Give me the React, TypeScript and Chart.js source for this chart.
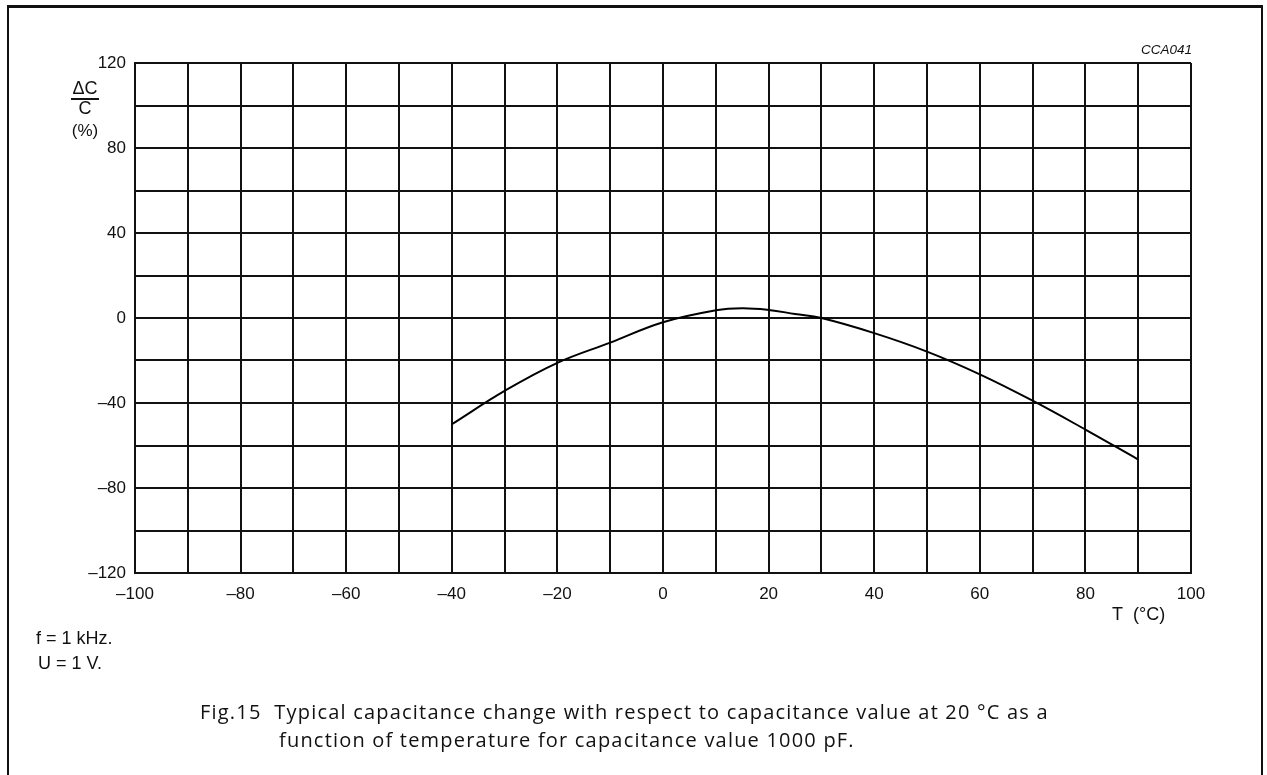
import React, { useEffect, useRef } from "react";
import { Chart, registerables } from "chart.js";

Chart.register(...registerables);

// Temperature (°C) and capacitance change (%)
const temperatures = [-40, -30, -20, -10, 0, 10, 15, 20, 25, 30, 40, 50, 60, 70, 80, 90];
const deltaC = [-50, -34.3, -21.1, -11.6, -2, 3.6, 4.6, 3.8, 1.9, 0, -7.1, -15.8, -26.5, -38.9, -52.5, -66.6];

const xTickLabels = [-100, -80, -60, -40, -20, 0, 20, 40, 60, 80, 100];
const yTickLabels = [-120, -80, -40, 0, 40, 80, 120];

const fmt = (v: number) => (v < 0 ? "\u2013" + Math.abs(v) : String(v));

const FONT = "'Liberation Sans', Arial, sans-serif";

export default function App() {
  const ref = useRef<HTMLCanvasElement | null>(null);

  useEffect(() => {
    if (!ref.current) return;
    const chart = new Chart(ref.current, {
      type: "line",
      data: {
        datasets: [
          {
            data: temperatures.map((t, i) => ({ x: t, y: deltaC[i] })),
            borderColor: "#000",
            borderWidth: 2,
            pointRadius: 0,
            tension: 0.4,
            fill: false,
          },
        ],
      },
      options: {
        responsive: false,
        animation: false,
        events: [],
        layout: { padding: { left: 0, top: 63, right: 76, bottom: 162 } },
        plugins: { legend: { display: false }, tooltip: { enabled: false } },
        scales: {
          x: {
            type: "linear",
            min: -100,
            max: 100,
            afterFit: (axis: any) => {
              axis.height = 40;
            },
            ticks: {
              stepSize: 10,
              autoSkip: false,
              maxRotation: 0,
              padding: 11,
              color: "#111",
              font: { family: FONT, size: 17 },
              callback: (v: any) => (xTickLabels.includes(Number(v)) ? fmt(Number(v)) : ""),
            },
            grid: { color: "#111", lineWidth: 2, drawTicks: false },
            border: { color: "#111", width: 2 },
          },
          y: {
            type: "linear",
            min: -120,
            max: 120,
            afterFit: (axis: any) => {
              axis.width = 135;
            },
            ticks: {
              stepSize: 20,
              autoSkip: false,
              padding: 9,
              color: "#111",
              font: { family: FONT, size: 17 },
              callback: (v: any) => (yTickLabels.includes(Number(v)) ? fmt(Number(v)) : ""),
            },
            grid: { color: "#111", lineWidth: 2, drawTicks: false },
            border: { color: "#111", width: 2 },
          },
        },
      },
    });
    return () => chart.destroy();
  }, []);

  const txt: React.CSSProperties = {
    position: "absolute",
    fontFamily: FONT,
    fontSize: 18,
    color: "#111",
    whiteSpace: "nowrap",
    lineHeight: "20px",
  };
  const cap: React.CSSProperties = {
    position: "absolute",
    fontFamily: "'Open Sans', sans-serif",
    fontSize: 20,
    letterSpacing: "1.2px",
    color: "#111",
    whiteSpace: "pre",
    lineHeight: "28px",
  };

  return (
    <div style={{ position: "absolute", left: 0, top: 0, width: 1267, height: 775, background: "#fff", overflow: "hidden" }}>
      <div
        style={{
          position: "absolute",
          left: 7,
          top: 5,
          width: 1256,
          height: 800,
          borderTop: "3px solid #111",
          borderLeft: "2px solid #111",
          borderRight: "2px solid #111",
          boxSizing: "border-box",
        }}
      />
      <canvas ref={ref} width={1267} height={775} style={{ position: "absolute", left: 0, top: 0 }} />
      {/* y-axis title */}
      <div style={{ ...txt, left: 70, top: 78, width: 30, textAlign: "center" }}>ΔC</div>
      <div style={{ position: "absolute", left: 71, top: 98, width: 28, height: 1.5, background: "#111" }} />
      <div style={{ ...txt, left: 70, top: 98, width: 30, textAlign: "center" }}>C</div>
      <div style={{ ...txt, left: 70, top: 121, width: 30, textAlign: "center", fontSize: 17 }}>(%)</div>
      {/* figure code */}
      <div style={{ ...txt, right: 1267 - 1192, top: 43, fontSize: 13.5, fontStyle: "italic", lineHeight: "14px" }}>CCA041</div>
      {/* x-axis title */}
      <div style={{ ...txt, left: 1112, top: 604 }}>T&nbsp;&nbsp;(°C)</div>
      {/* conditions */}
      <div style={{ ...txt, left: 36, top: 628 }}>f = 1 kHz.</div>
      <div style={{ ...txt, left: 38, top: 653 }}>U = 1 V.</div>
      {/* caption */}
      <div style={{ ...cap, left: 200, top: 698 }}>Fig.15  Typical capacitance change with respect to capacitance value at 20 °C as a</div>
      <div style={{ ...cap, left: 279, top: 726 }}>function of temperature for capacitance value 1000 pF.</div>
    </div>
  );
}
